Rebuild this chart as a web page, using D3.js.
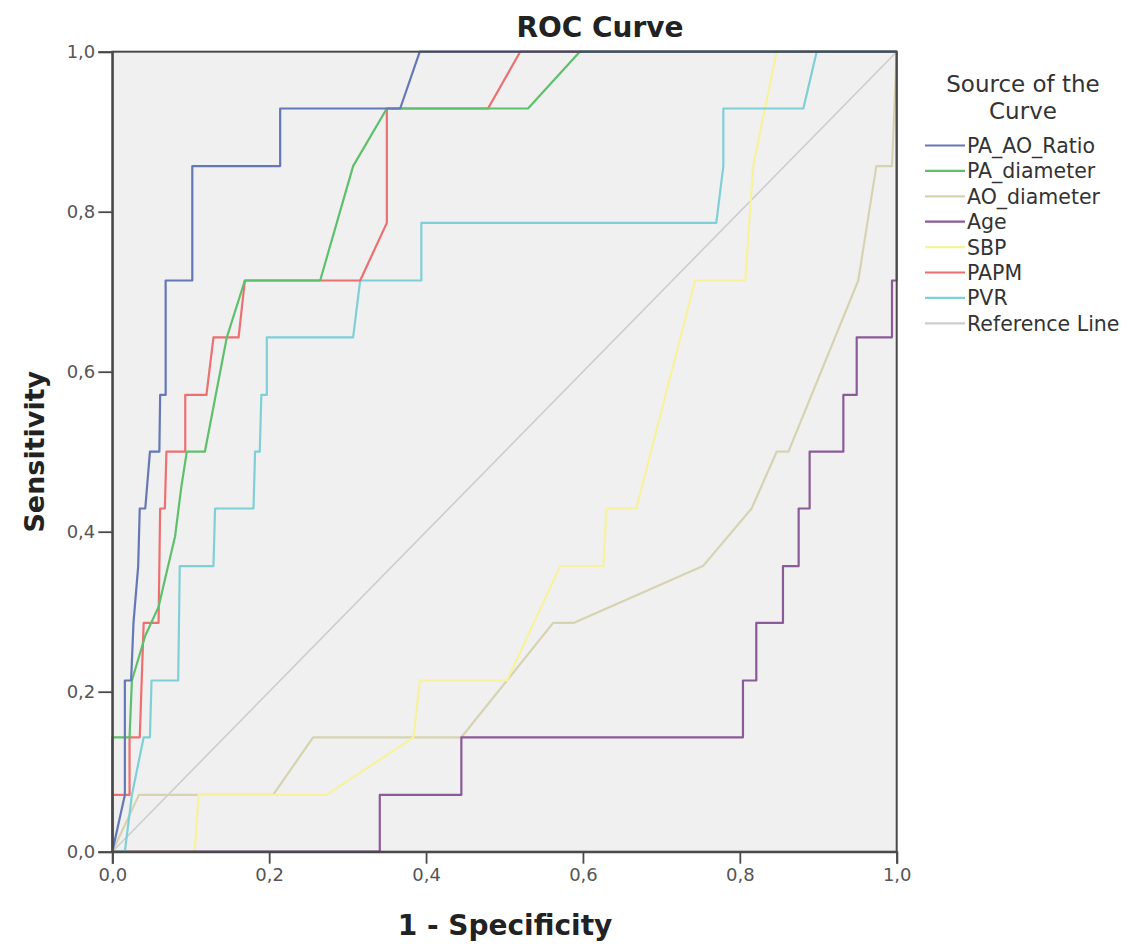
<!DOCTYPE html>
<html>
<head>
<meta charset="utf-8">
<script src="https://cdn.jsdelivr.net/npm/d3@7"></script>
<style>
  html, body { margin: 0; padding: 0; background: #ffffff; }
  svg { display: block; }
</style>
</head>
<body>
<svg id="chart" width="1132" height="947"></svg>
<script>
// ---------- data ----------
const seriesNames = ["PA_AO_Ratio", "PA_diameter", "AO_diameter", "Age", "SBP", "PAPM", "PVR", "Reference Line"];
const seriesColors = ["#6477b6", "#5ebf6c", "#d6d3b1", "#8a5b98", "#f6f29e", "#ee6f70", "#7fcfd6", "#cdcdcd"];

const paAoRatio = [[0,0],[0.016,0.071],[0.016,0.214],[0.024,0.214],[0.027,0.286],[0.033,0.357],[0.035,0.429],[0.042,0.429],[0.048,0.5],[0.06,0.5],[0.061,0.571],[0.068,0.571],[0.068,0.714],[0.102,0.714],[0.102,0.857],[0.214,0.857],[0.214,0.929],[0.367,0.929],[0.392,1],[1,1]];
const paDiameter = [[0,0],[0,0.143],[0.022,0.143],[0.025,0.214],[0.042,0.27],[0.059,0.306],[0.067,0.34],[0.08,0.394],[0.088,0.456],[0.095,0.5],[0.118,0.5],[0.146,0.643],[0.169,0.714],[0.265,0.714],[0.307,0.857],[0.35,0.929],[0.53,0.929],[0.596,1],[1,1]];
const aoDiameter = [[0,0],[0.034,0.071],[0.205,0.071],[0.256,0.143],[0.445,0.143],[0.562,0.286],[0.588,0.286],[0.753,0.357],[0.815,0.429],[0.847,0.5],[0.862,0.5],[0.951,0.714],[0.974,0.857],[0.994,0.857],[1,1]];
const age = [[0,0],[0.341,0],[0.341,0.071],[0.445,0.071],[0.445,0.143],[0.804,0.143],[0.804,0.214],[0.821,0.214],[0.821,0.286],[0.855,0.286],[0.855,0.357],[0.875,0.357],[0.875,0.429],[0.889,0.429],[0.889,0.5],[0.932,0.5],[0.932,0.571],[0.949,0.571],[0.949,0.643],[0.994,0.643],[0.994,0.714],[1,0.714],[1,1]];
const sbp = [[0,0],[0.105,0],[0.11,0.071],[0.273,0.071],[0.384,0.143],[0.392,0.214],[0.503,0.214],[0.571,0.357],[0.626,0.357],[0.63,0.429],[0.668,0.429],[0.743,0.714],[0.807,0.714],[0.817,0.857],[0.832,0.929],[0.847,1],[1,1]];
const papm = [[0,0],[0,0.071],[0.022,0.071],[0.022,0.143],[0.035,0.143],[0.04,0.286],[0.059,0.286],[0.061,0.429],[0.067,0.429],[0.069,0.5],[0.093,0.5],[0.093,0.571],[0.12,0.571],[0.129,0.643],[0.161,0.643],[0.169,0.714],[0.316,0.714],[0.35,0.786],[0.35,0.929],[0.479,0.929],[0.52,1],[1,1]];
const pvr = [[0,0],[0.016,0],[0.025,0.071],[0.04,0.143],[0.048,0.143],[0.05,0.214],[0.084,0.214],[0.086,0.357],[0.129,0.357],[0.131,0.429],[0.18,0.429],[0.182,0.5],[0.188,0.5],[0.19,0.571],[0.197,0.571],[0.197,0.643],[0.307,0.643],[0.316,0.714],[0.394,0.714],[0.394,0.786],[0.77,0.786],[0.779,0.857],[0.779,0.929],[0.881,0.929],[0.898,1],[1,1]];
const referenceLine = [[0,0],[1,1]];

const seriesData = [paAoRatio, paDiameter, aoDiameter, age, sbp, papm, pvr, referenceLine];
const tickValues = [0, 0.2, 0.4, 0.6, 0.8, 1.0];
const tickLabels = ["0,0", "0,2", "0,4", "0,6", "0,8", "1,0"];

// ---------- layout ----------
const svg = d3.select("#chart");
const plotLeft = 112.3, plotTop = 51.7, plotWidth = 784.4, plotHeight = 800;

const x = d3.scaleLinear().domain([0, 1]).range([plotLeft, plotLeft + plotWidth]);
const y = d3.scaleLinear().domain([0, 1]).range([plotTop + plotHeight, plotTop]);

// plot background
svg.append("rect")
  .attr("x", x(0)).attr("y", y(1))
  .attr("width", x(1) - x(0)).attr("height", y(0) - y(1))
  .attr("fill", "#f0f0f0");

// curves
const line = d3.line().x(d => x(d[0])).y(d => y(d[1]));
const drawOrder = [7, 2, 4, 3, 6, 5, 1, 0];
drawOrder.forEach(i => {
  svg.append("path")
    .datum(seriesData[i])
    .attr("d", line)
    .attr("fill", "none")
    .attr("stroke", seriesColors[i])
    .attr("stroke-width", i === 7 ? 1.6 : 2.2)
    .attr("stroke-linejoin", "round");
});

// frame
svg.append("rect")
  .attr("x", x(0)).attr("y", y(1))
  .attr("width", x(1) - x(0)).attr("height", y(0) - y(1))
  .attr("fill", "none").attr("stroke", "#4a4a4a").attr("stroke-width", 2);

// axes
const fmt = d => tickLabels[tickValues.indexOf(d)];
const xAxis = d3.axisBottom(x).tickValues(tickValues).tickFormat(fmt).tickSize(12).tickPadding(5);
const yAxis = d3.axisLeft(y).tickValues(tickValues).tickFormat(fmt).tickSize(14).tickPadding(3);

const gx = svg.append("g").attr("transform", `translate(0,${y(0)})`).call(xAxis);
const gy = svg.append("g").attr("transform", `translate(${x(0)},0)`).call(yAxis);
[gx, gy].forEach(g => {
  g.select(".domain").attr("stroke", "#4a4a4a").attr("stroke-width", 2);
  g.selectAll(".tick line").attr("stroke", "#4a4a4a").attr("stroke-width", 1.8);
  g.selectAll(".tick text")
    .attr("fill", "#555")
    .style("font-family", "'DejaVu Sans', sans-serif")
    .style("font-size", "18px");
});

const boldFont = "'DejaVu Sans', sans-serif";

// title
svg.append("text")
  .attr("x", 600).attr("y", 37)
  .attr("text-anchor", "middle")
  .style("font-family", boldFont)
  .style("font-weight", "bold")
  .style("font-size", "28px")
  .attr("fill", "#222")
  .text("ROC Curve");

// axis titles
svg.append("text")
  .attr("x", 505).attr("y", 935)
  .attr("text-anchor", "middle")
  .style("font-family", boldFont)
  .style("font-weight", "bold")
  .style("font-size", "28px")
  .attr("fill", "#222")
  .text("1 - Specificity");

svg.append("text")
  .attr("transform", `translate(44,${(y(0) + y(1)) / 2}) rotate(-90)`)
  .attr("text-anchor", "middle")
  .style("font-family", boldFont)
  .style("font-weight", "bold")
  .style("font-size", "27px")
  .attr("fill", "#222")
  .text("Sensitivity");

// legend
const lg = svg.append("g");
lg.append("text").attr("x", 1023).attr("y", 92).attr("text-anchor", "middle")
  .style("font-family", "'DejaVu Sans', sans-serif").style("font-size", "23px").attr("fill", "#333")
  .text("Source of the");
lg.append("text").attr("x", 1023).attr("y", 119).attr("text-anchor", "middle")
  .style("font-family", "'DejaVu Sans', sans-serif").style("font-size", "23px").attr("fill", "#333")
  .text("Curve");

seriesNames.forEach((name, i) => {
  const yy = 145.5 + i * 25.4;
  lg.append("line")
    .attr("x1", 925).attr("x2", 965).attr("y1", yy).attr("y2", yy)
    .attr("stroke", seriesColors[i]).attr("stroke-width", 2.2);
  lg.append("text")
    .attr("x", 967).attr("y", yy + 7.5)
    .style("font-family", "'DejaVu Sans', sans-serif").style("font-size", "20.5px").attr("fill", "#333")
    .text(name);
});
</script>
</body>
</html>
